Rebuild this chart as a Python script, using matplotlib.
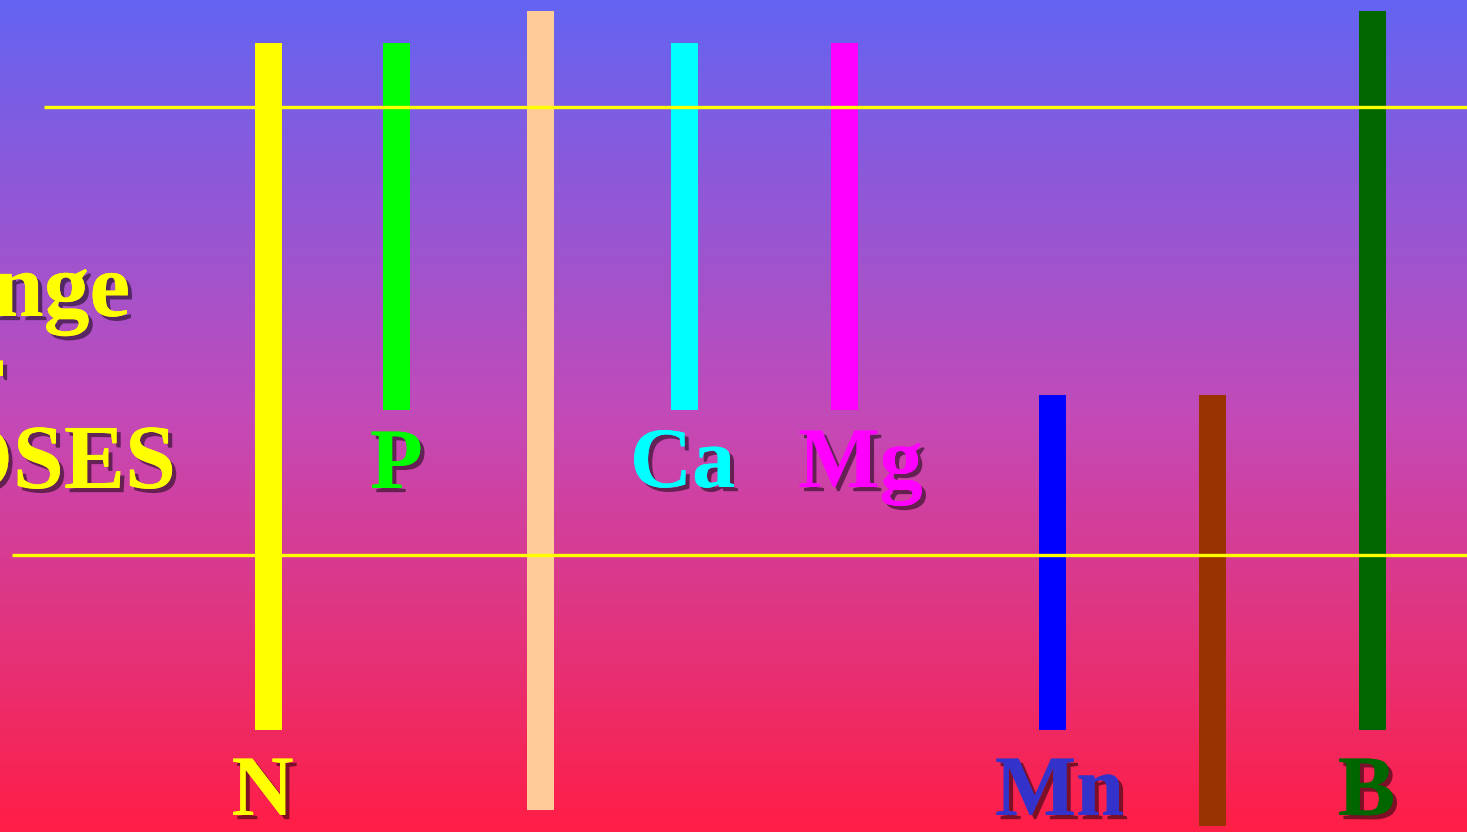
import numpy as np
import matplotlib
matplotlib.use("Agg")
import matplotlib.pyplot as plt
import matplotlib.patheffects as pe
from matplotlib.colors import LinearSegmentedColormap

# nutrient dose ranges (y axis runs downward, 0 = top of slide)
elements = ["N", "P", "", "Ca", "Mg", "Mn", "", "B"]
bar_x = [268.5, 396.5, 540.5, 684.5, 844.5, 1052.5, 1212.5, 1372.5]
bar_top = [43, 43, 11, 43, 43, 395, 395, 11]
bar_bottom = [730, 410, 810, 410, 410, 730, 826, 730]
bar_colors = ["#FFFF00", "#00FF00", "#FFCC99", "#00FFFF", "#FF00FF",
              "#0000FF", "#993300", "#006600"]
label_colors = ["#FFFF00", "#00FF00", None, "#00FFFF", "#FF00FF",
                "#3333CC", None, "#006600"]
label_dx = [-6, 0, 0, -2, 16, 7, 0, -6]
label_y = [815, 488, 0, 487, 487, 815, 0, 815]

# optimum band limits
upper_limit = 107
lower_limit = 555

fig = plt.figure(figsize=(14.67, 8.32), dpi=100)
ax = fig.add_axes([0, 0, 1, 1])
ax.set_xlim(0, 1467)
ax.set_ylim(832, 0)
ax.axis("off")

# gradient background
cmap = LinearSegmentedColormap.from_list(
    "bg", [(0.0, "#6464F2"), (0.5, "#C34AB8"), (1.0, "#FF1E46")])
grad = np.linspace(0, 1, 256).reshape(-1, 1)
ax.imshow(grad, cmap=cmap, aspect="auto", extent=[0, 1467, 832, 0], zorder=0)

heights = [b - t for t, b in zip(bar_top, bar_bottom)]
ax.bar(bar_x, heights, bottom=bar_top, width=27, color=bar_colors,
       align="center", zorder=3)

# band lines are drawn over the bars
ax.hlines([upper_limit], 44, 1467, color="#FFFF00", linewidth=2.4, zorder=4)
ax.hlines([lower_limit], 12, 1467, color="#FFFF00", linewidth=2.4, zorder=4)

shadow = [pe.withSimplePatchShadow(offset=(3, -3), shadow_rgbFace="black",
                                   alpha=0.5), pe.Normal()]
font = dict(family="Liberation Serif", weight="bold")

for name, x, dx, y, c in zip(elements, bar_x, label_dx, label_y, label_colors):
    if not name:
        continue
    ax.text(x + dx, y, name, color=c, fontsize=62, ha="center",
            va="baseline", path_effects=shadow, zorder=5, **font)

# side title, mostly cropped off the left edge
ax.text(130, 316, "Range", color="#FFFF00", fontsize=66, ha="right",
        va="baseline", path_effects=shadow, zorder=5, **font)
ax.text(5, 404, "for", color="#FFFF00", fontsize=66, ha="right",
        va="baseline", path_effects=shadow, zorder=5, **font)
ax.text(176, 488, "DOSES", color="#FFFF00", fontsize=66, ha="right",
        va="baseline", path_effects=shadow, zorder=5, **font)

fig.savefig("out.png", dpi=100)
